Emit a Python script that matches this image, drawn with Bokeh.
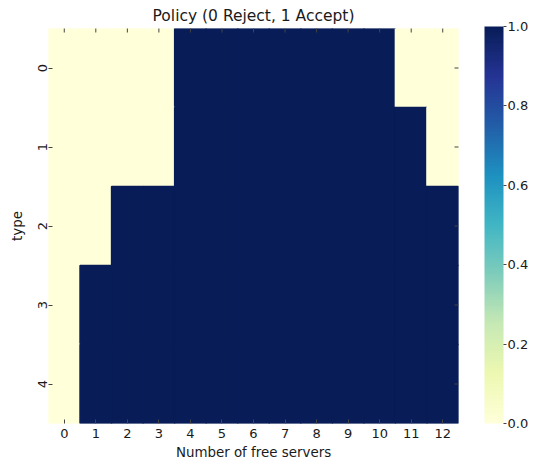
import numpy as np
from bokeh.plotting import figure
from bokeh.models import (ColumnDataSource, LinearColorMapper, ColorBar, FixedTicker,
                          Range1d, PrintfTickFormatter)
from bokeh.embed import file_html
from bokeh.resources import INLINE

# ---- data ----
types = [0, 1, 2, 3, 4]
servers = list(range(13))
policy = [
    [0, 0, 0, 0, 1, 1, 1, 1, 1, 1, 1, 0, 0],
    [0, 0, 0, 0, 1, 1, 1, 1, 1, 1, 1, 1, 0],
    [0, 0, 1, 1, 1, 1, 1, 1, 1, 1, 1, 1, 1],
    [0, 1, 1, 1, 1, 1, 1, 1, 1, 1, 1, 1, 1],
    [0, 1, 1, 1, 1, 1, 1, 1, 1, 1, 1, 1, 1],
]
cbar_ticks = [0.0, 0.2, 0.4, 0.6, 0.8, 1.0]
title_text = "Policy (0 Reject, 1 Accept)"
x_label = "Number of free servers"
y_label = "type"

# ---- palette (YlGnBu, interpolated) ----
brewer = ["#ffffd9", "#edf8b1", "#c7e9b4", "#7fcdbb", "#41b6c4",
          "#1d91c0", "#225ea8", "#253494", "#081d58"]
def hex2rgb(h):
    return [int(h[i:i + 2], 16) for i in (1, 3, 5)]
cols = np.array([hex2rgb(c) for c in brewer], dtype=float)
pos = np.linspace(0, 1, len(brewer))
t = np.linspace(0, 1, 256)
palette = ["#%02x%02x%02x" % tuple(int(round(np.interp(tt, pos, cols[:, k]))) for k in range(3))
           for tt in t]

xs, ys, vs = [], [], []
for r, row in zip(types, policy):
    for c, v in zip(servers, row):
        xs.append(c); ys.append(r); vs.append(v)
src = ColumnDataSource(dict(x=xs, y=ys, v=vs))

mapper = LinearColorMapper(palette=palette, low=0, high=1)

FONT = "DejaVu Sans"
TXT = "#1a1a1a"
TICK = "#444444"

W, H = 528, 462
LEFT, RIGHT, TOP, BOTTOM = 48, 70, 28, 37
FW = W - LEFT - RIGHT
FH = H - TOP - BOTTOM

x0, x1 = servers[0] - 0.5, servers[-1] + 0.5
y0, y1 = types[-1] + 0.5, types[0] - 0.5

p = figure(width=W, height=H,
           x_range=Range1d(x0, x1), y_range=Range1d(y0, y1),
           output_backend="svg", toolbar_location=None,
           min_border_left=LEFT, min_border_top=TOP,
           min_border_bottom=BOTTOM, min_border_right=RIGHT)
p.rect(x="x", y="y", width=1, height=1, source=src,
       fill_color={"field": "v", "transform": mapper},
       line_color={"field": "v", "transform": mapper}, line_width=1.5)

# inward ticks on top and right edges (as in the reference)
p.scatter(x=servers, y=[y1] * len(servers), marker="dash", size=8, angle=np.pi / 2,
          line_color=TICK, line_width=1)
p.scatter(x=[x1] * len(types), y=types, marker="dash", size=8,
          line_color=TICK, line_width=1)

p.grid.visible = False
p.outline_line_color = None
p.background_fill_color = None
p.border_fill_color = "white"

p.title.text = title_text
p.title.align = "center"
p.title.text_font = FONT
p.title.text_font_size = "15.5px"
p.title.text_font_style = "normal"
p.title.text_color = TXT
p.title.standoff = 7

for ax, ticks in ((p.xaxis[0], servers), (p.yaxis[0], types)):
    ax.ticker = FixedTicker(ticks=ticks)
    ax.axis_line_color = None
    ax.major_tick_in = 4
    ax.major_tick_out = 0
    ax.major_tick_line_color = TICK
    ax.minor_tick_line_color = None
    ax.major_label_text_font = FONT
    ax.major_label_text_font_size = "13px"
    ax.major_label_text_color = TXT
    ax.axis_label_text_font = FONT
    ax.axis_label_text_font_size = "13.4px"
    ax.axis_label_text_font_style = "normal"
    ax.axis_label_text_color = TXT

p.xaxis.axis_label = x_label
p.yaxis.axis_label = y_label
p.xaxis.major_label_standoff = 5
p.xaxis.axis_label_standoff = 4
p.yaxis.major_label_orientation = "vertical"
p.yaxis.major_label_standoff = 2
p.yaxis.axis_label_standoff = 10

cb = ColorBar(color_mapper=mapper, ticker=FixedTicker(ticks=cbar_ticks),
              formatter=PrintfTickFormatter(format="%.1f"),
              width=19, height=FH, padding=0, margin=0, location=(FW + 26, 0),
              major_tick_in=0, major_tick_out=3, major_tick_line_color=TICK,
              minor_tick_line_color=None, bar_line_color=None,
              border_line_color=None, background_fill_color=None,
              label_standoff=1, major_label_text_font=FONT,
              major_label_text_font_size="13px", major_label_text_color=TXT)
p.add_layout(cb)

open("out.html", "w").write(file_html(p, INLINE))
